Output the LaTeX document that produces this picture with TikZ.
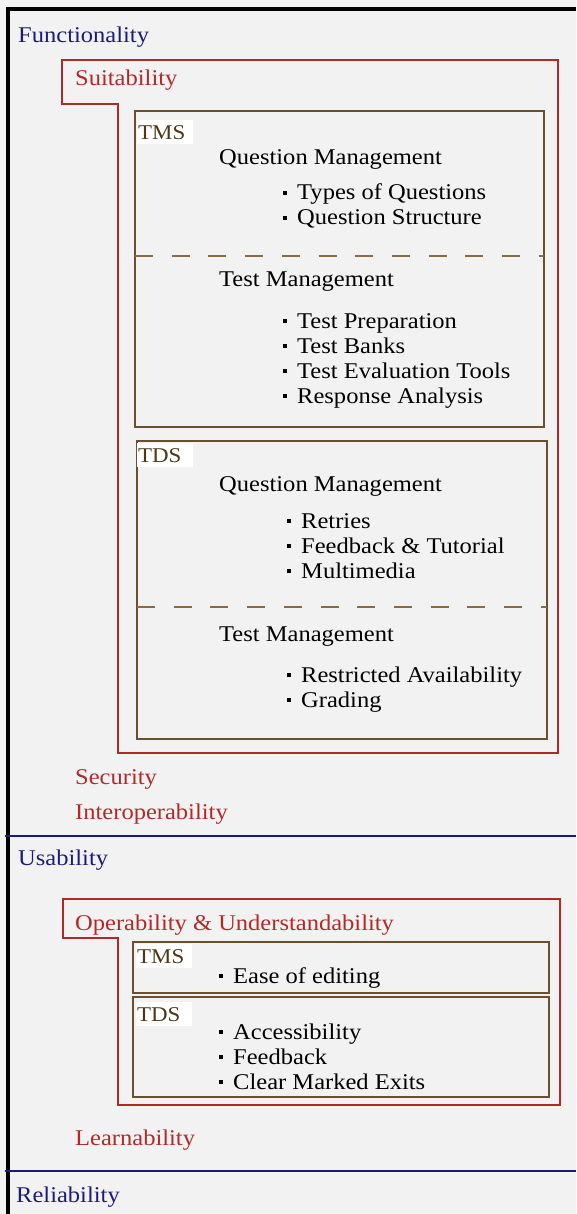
\documentclass[tikz,border=0pt]{standalone}
\usepackage{fontspec}
\setmainfont[FakeStretch=1.09]{Liberation Serif}
\usepackage{tikz}
\definecolor{bgGray}{HTML}{F2F2F2}
\definecolor{navy}{HTML}{1C1C78}
\definecolor{darkRed}{HTML}{B02A2A}
\definecolor{boxBrown}{HTML}{6B5030}
\definecolor{dashBrown}{HTML}{8A6A42}
\definecolor{labelBrown}{HTML}{4A3818}
\newcommand{\itm}{\rule[5pt]{4pt}{4pt}\hspace{10pt}}
\tikzstyle{txt} = [inner sep=0pt, anchor=base west, font=\fontsize{22.5}{25}\selectfont]
\tikzstyle{category} = [txt, text=navy]
\tikzstyle{subchar} = [txt, text=darkRed]
\tikzstyle{heading} = [txt, text=black]
\tikzstyle{tag} = [anchor=north west, fill=white, inner xsep=1pt, inner ysep=0pt, minimum width=56pt, minimum height=24pt, text width=54pt, align=left, text=labelBrown, font=\fontsize{21}{24}\selectfont]
\tikzstyle{frame} = [draw=boxBrown, line width=2pt]
\tikzstyle{charbox} = [draw=darkRed, line width=2pt]
\tikzstyle{divider} = [draw=navy, line width=2pt]
\tikzstyle{split} = [draw=dashBrown, line width=2pt, dash pattern=on 18pt off 18.7pt]

\begin{document}
\begin{tikzpicture}[x=1pt, y=-1pt]
        \useasboundingbox[fill=bgGray] (0,0) rectangle (576,1214);
        \draw [line width=4pt] (7.5,1214) -- (7.5,9) -- (576,9);

        \draw [charbox] (62,60) -- (558,60) -- (558,753) -- (118,753) -- (118,104) -- (62,104) -- cycle;
        \draw [frame] (135,111) rectangle (544,427);
        \draw [split] (135,256) -- (544,256);
        \draw [frame] (137,441) rectangle (547,739);
        \draw [split] (137,607) -- (547,607);
        \draw [divider] (5,836) -- (576,836);
        \draw [charbox] (63,899) -- (560,899) -- (560,1105) -- (118,1105) -- (118,938) -- (63,938) -- cycle;
        \draw [frame] (133,942) rectangle (549,993);
        \draw [frame] (133,997) rectangle (549,1097);
        \draw [divider] (5,1171) -- (576,1171);

        \node (functionality) [category] at (18,43) {Functionality};
        \node (suitability) [subchar] at (75,86) {Suitability};
        \node (tmsTag) [tag] at (137,120) {TMS};
        \node (tmsQuestion) [heading] at (219,165) {Question Management};
        \node (tmsTypes) [heading] at (283,200) {\itm Types of Questions};
        \node (tmsStructure) [heading] at (283,225) {\itm Question Structure};
        \node (tmsTest) [heading] at (219,287) {Test Management};
        \node (tmsPreparation) [heading] at (283,328) {\itm Test Preparation};
        \node (tmsBanks) [heading] at (283,353) {\itm Test Banks};
        \node (tmsEvaluation) [heading] at (283,378) {\itm Test Evaluation Tools};
        \node (tmsResponse) [heading] at (283,403) {\itm Response Analysis};
        \node (tdsTag) [tag] at (137,443) {TDS};
        \node (tdsQuestion) [heading] at (219,491) {Question Management};
        \node (tdsRetries) [heading] at (287,528) {\itm Retries};
        \node (tdsFeedback) [heading] at (287,553) {\itm Feedback \& Tutorial};
        \node (tdsMultimedia) [heading] at (287,578) {\itm Multimedia};
        \node (tdsTest) [heading] at (219,641) {Test Management};
        \node (tdsRestricted) [heading] at (287,682) {\itm Restricted Availability};
        \node (tdsGrading) [heading] at (287,707) {\itm Grading};
        \node (security) [subchar] at (75,784) {Security};
        \node (interoperability) [subchar] at (75,819) {Interoperability};

        \node (usability) [category] at (18,865) {Usability};
        \node (operability) [subchar] at (75,930) {Operability \& Understandability};
        \node (tmsTag2) [tag] at (136,944) {TMS};
        \node (tmsEditing) [heading] at (219,983) {\itm Ease of editing};
        \node (tdsTag2) [tag] at (136,1002) {TDS};
        \node (tdsAccessibility) [heading] at (219,1039) {\itm Accessibility};
        \node (tdsFeedback2) [heading] at (219,1064) {\itm Feedback};
        \node (tdsExits) [heading] at (219,1089) {\itm Clear Marked Exits};
        \node (learnability) [subchar] at (75,1145) {Learnability};

        \node (reliability) [category] at (16,1202) {Reliability};

      \end{tikzpicture}
\end{document}
